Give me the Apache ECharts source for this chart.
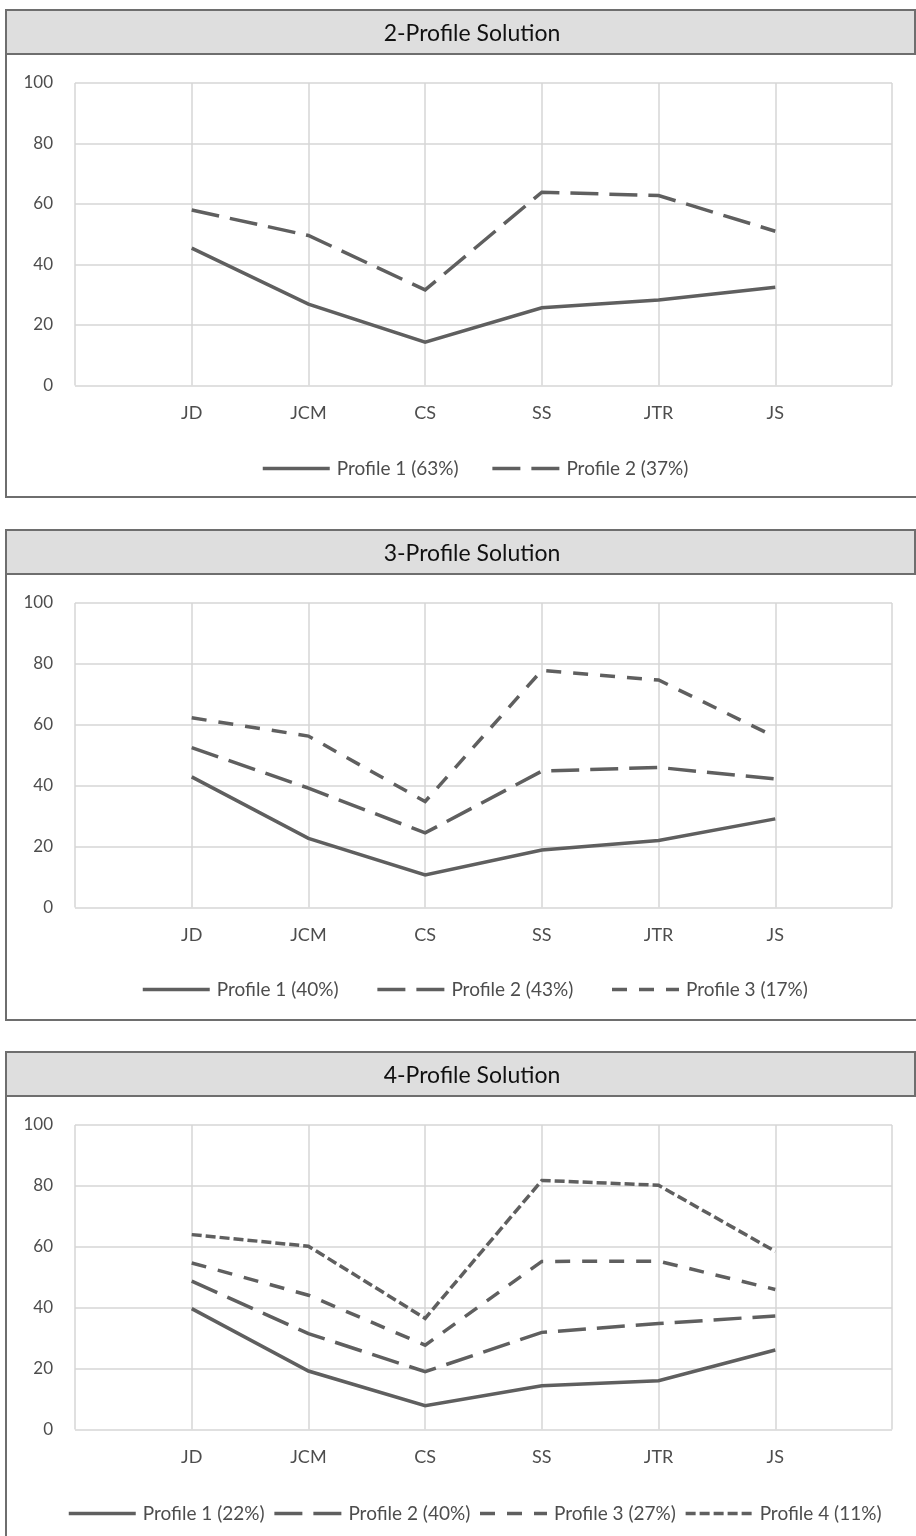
<!DOCTYPE html>
<html><head><meta charset="utf-8">
<script src="https://cdn.jsdelivr.net/npm/echarts@6/dist/echarts.min.js"></script>
<style>html,body{margin:0;padding:0;background:#fff}#c{width:916px;height:1536px}</style>
</head><body><div id="c"></div>
<script>
// ---- data ----
const categories = ['JD', 'JCM', 'CS', 'SS', 'JTR', 'JS'];
const yTicks = [0, 20, 40, 60, 80, 100];
const panelTitles = ['2-Profile Solution', '3-Profile Solution', '4-Profile Solution'];

const sol2Names = ['Profile 1 (63%)', 'Profile 2 (37%)'];
const sol2Profile1 = [45.4, 26.9, 14.3, 25.7, 28.3, 32.5];
const sol2Profile2 = [58.0, 49.6, 31.6, 63.9, 62.8, 51.0];

const sol3Names = ['Profile 1 (40%)', 'Profile 2 (43%)', 'Profile 3 (17%)'];
const sol3Profile1 = [42.9, 22.7, 10.7, 18.9, 22.0, 29.1];
const sol3Profile2 = [52.5, 39.2, 24.5, 44.8, 46.0, 42.2];
const sol3Profile3 = [62.3, 56.3, 34.8, 77.9, 74.7, 56.0];

const sol4Names = ['Profile 1 (22%)', 'Profile 2 (40%)', 'Profile 3 (27%)', 'Profile 4 (11%)'];
const sol4Profile1 = [39.7, 19.2, 7.8, 14.4, 16.0, 26.1];
const sol4Profile2 = [48.7, 31.5, 19.0, 31.9, 34.8, 37.3];
const sol4Profile3 = [54.7, 44.1, 27.7, 55.2, 55.3, 46.0];
const sol4Profile4 = [64.0, 60.2, 36.5, 81.8, 80.2, 58.5];

// ---- styling / layout ----
const FONT = 'Lato';
const LINE_COLOR = '#5f5f5f';
const LINE_W = 3.5;
const dashStyles = ['solid', [28, 11], [15, 12], [10, 4]];
const panels = [
  { names: sol2Names, values: [sol2Profile1, sol2Profile2], box: [10, 497], gridTop: 83, gridH: 302.5, legendLeft: 256, legendTop: 454, legendGap: 32 },
  { names: sol3Names, values: [sol3Profile1, sol3Profile2, sol3Profile3], box: [530, 1020], gridTop: 603, gridH: 304.5, legendLeft: 136, legendTop: 975, legendGap: 37 },
  { names: sol4Names, values: [sol4Profile1, sol4Profile2, sol4Profile3, sol4Profile4], box: [1052, 1545], gridTop: 1125, gridH: 304.5, legendLeft: 62, legendTop: 1499, legendGap: 8 }
];

const graphic = [], title = [], grid = [], xAxis = [], yAxis = [], legend = [], series = [];
panels.forEach((p, k) => {
  graphic.push({ type: 'rect', z: -10, shape: { x: 6, y: p.box[0], width: 914, height: p.box[1] - p.box[0] },
    style: { fill: '#fff', stroke: '#6e6e6e', lineWidth: 2 } });
  graphic.push({ type: 'rect', z: -9, shape: { x: 6, y: p.box[0], width: 909, height: 44 },
    style: { fill: '#dedede', stroke: '#6e6e6e', lineWidth: 2 } });
  title.push({ text: panelTitles[k], left: 467, textAlign: 'center', top: p.box[0] + 7,
    textStyle: { fontFamily: FONT, fontSize: 23, fontWeight: 'normal', color: '#111' } });
  grid.push({ left: 75, right: 24, top: p.gridTop, height: p.gridH });
  xAxis.push({ type: 'value', gridIndex: k, min: 0, max: categories.length + 1, interval: 1,
    axisLine: { show: false }, axisTick: { show: false },
    splitLine: { show: true, lineStyle: { color: '#d6d6d6', width: 1.5 } },
    axisLabel: { margin: 19, fontFamily: FONT, fontSize: 18, color: '#4d4d4d',
      formatter: v => categories[v - 1] || '' } });
  yAxis.push({ type: 'value', gridIndex: k, min: yTicks[0], max: yTicks[yTicks.length - 1], interval: yTicks[1] - yTicks[0],
    axisLine: { show: false }, axisTick: { show: false },
    splitLine: { show: true, lineStyle: { color: '#d6d6d6', width: 1.5 } },
    axisLabel: { margin: 22, fontFamily: FONT, fontSize: 17, color: '#4d4d4d' } });
  legend.push({ data: p.names, left: p.legendLeft, top: p.legendTop, orient: 'horizontal',
    itemWidth: 67, itemHeight: 14, itemGap: p.legendGap, selectedMode: false,
    itemStyle: { opacity: 0 },
    lineStyle: { width: LINE_W, color: LINE_COLOR },
    textStyle: { fontFamily: FONT, fontSize: 19, color: '#4d4d4d', padding: [0, 0, 0, 2] } });
  p.names.forEach((name, i) => {
    series.push({ type: 'line', name: name, xAxisIndex: k, yAxisIndex: k,
      data: p.values[i].map((v, j) => [j + 1, v]),
      symbol: 'none', showSymbol: false, silent: true, animation: false,
      lineStyle: { color: LINE_COLOR, width: LINE_W, type: dashStyles[i], cap: 'butt', join: 'miter' },
      itemStyle: { color: LINE_COLOR } });
  });
});

const chart = echarts.init(document.getElementById('c'), null, { renderer: 'canvas' });
chart.setOption({ animation: false, backgroundColor: '#fff', graphic, title, grid, xAxis, yAxis, legend, series });
</script></body></html>
